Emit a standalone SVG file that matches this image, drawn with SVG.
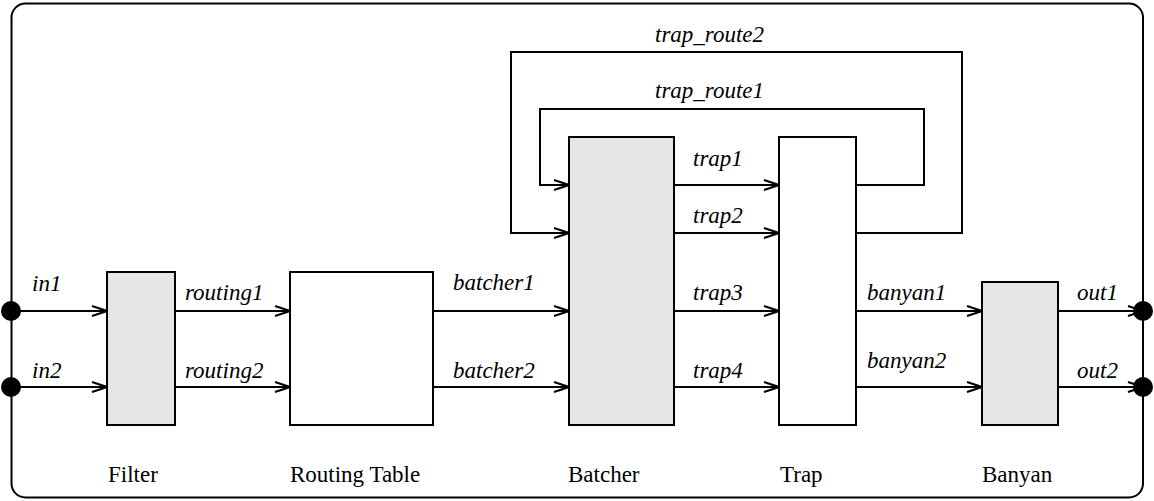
<svg xmlns="http://www.w3.org/2000/svg" width="1154" height="501" viewBox="0 0 1154 501">
<style>
.box{stroke:#000;stroke-width:2}
.g{fill:#e5e5e5}
.w{fill:#fff}
.c{fill:none;stroke:#000;stroke-width:2;marker-end:url(#arr)}
.l{font-family:"Liberation Serif","Times New Roman",serif;font-size:23px;fill:#000}
.i{font-style:italic}
.dot{fill:#000}
</style>
<defs>
<marker id="arr" markerUnits="userSpaceOnUse" markerWidth="18" markerHeight="14" refX="16" refY="6" orient="auto">
<path d="M1,1 L16,6 L1,11" fill="none" stroke="#000" stroke-width="2"/>
</marker>
</defs>
<rect x="11.5" y="3.5" width="1131.5" height="494" rx="14" fill="#fff" stroke="#000" stroke-width="2"/>
<g id="connectors">
<path class="c" d="M11,311 H107"/>
<path class="c" d="M11,387 H107"/>
<path class="c" d="M175,311 H290"/>
<path class="c" d="M175,387 H290"/>
<path class="c" d="M433,311 H569"/>
<path class="c" d="M433,387 H569"/>
<path class="c" d="M674,185 H779"/>
<path class="c" d="M674,233 H779"/>
<path class="c" d="M674,311 H779"/>
<path class="c" d="M674,387 H779"/>
<path class="c" d="M856,311 H982"/>
<path class="c" d="M856,387 H982"/>
<path class="c" d="M1058,311 H1143"/>
<path class="c" d="M1058,387 H1143"/>
<path class="c" d="M856,185 H924 V109 H540 V185 H569"/>
<path class="c" d="M856,233 H962 V52 H511 V233 H569"/>
<text class="l i" x="32" y="291">in1</text>
<text class="l i" x="32" y="378">in2</text>
<text class="l i" x="185" y="300">routing1</text>
<text class="l i" x="185" y="378">routing2</text>
<text class="l i" x="453" y="290">batcher1</text>
<text class="l i" x="453" y="378">batcher2</text>
<text class="l i" x="693" y="166">trap1</text>
<text class="l i" x="693" y="223">trap2</text>
<text class="l i" x="693" y="300">trap3</text>
<text class="l i" x="693" y="378">trap4</text>
<text class="l i" x="867" y="300">banyan1</text>
<text class="l i" x="867" y="368">banyan2</text>
<text class="l i" x="1077" y="300">out1</text>
<text class="l i" x="1077" y="378">out2</text>
<text class="l i" x="655" y="42">trap_route2</text>
<text class="l i" x="655" y="98">trap_route1</text>
</g>
<g id="port-in1"><circle class="dot" cx="11" cy="311" r="10"/></g>
<g id="port-in2"><circle class="dot" cx="11" cy="387" r="10"/></g>
<g id="port-out1"><circle class="dot" cx="1143" cy="311" r="10"/></g>
<g id="port-out2"><circle class="dot" cx="1143" cy="387" r="10"/></g>
<g id="filter">
<rect class="box g" x="107" y="272" width="68" height="153"/>
<text class="l" x="108" y="482">Filter</text>
</g>
<g id="routing-table">
<rect class="box w" x="290" y="272" width="143" height="153"/>
<text class="l" x="290" y="482">Routing Table</text>
</g>
<g id="batcher">
<rect class="box g" x="569" y="137" width="105" height="288"/>
<text class="l" x="568" y="482">Batcher</text>
</g>
<g id="trap">
<rect class="box w" x="779" y="137" width="77" height="288"/>
<text class="l" x="780" y="482">Trap</text>
</g>
<g id="banyan">
<rect class="box g" x="982" y="282" width="76" height="143"/>
<text class="l" x="982" y="482">Banyan</text>
</g>
</svg>
